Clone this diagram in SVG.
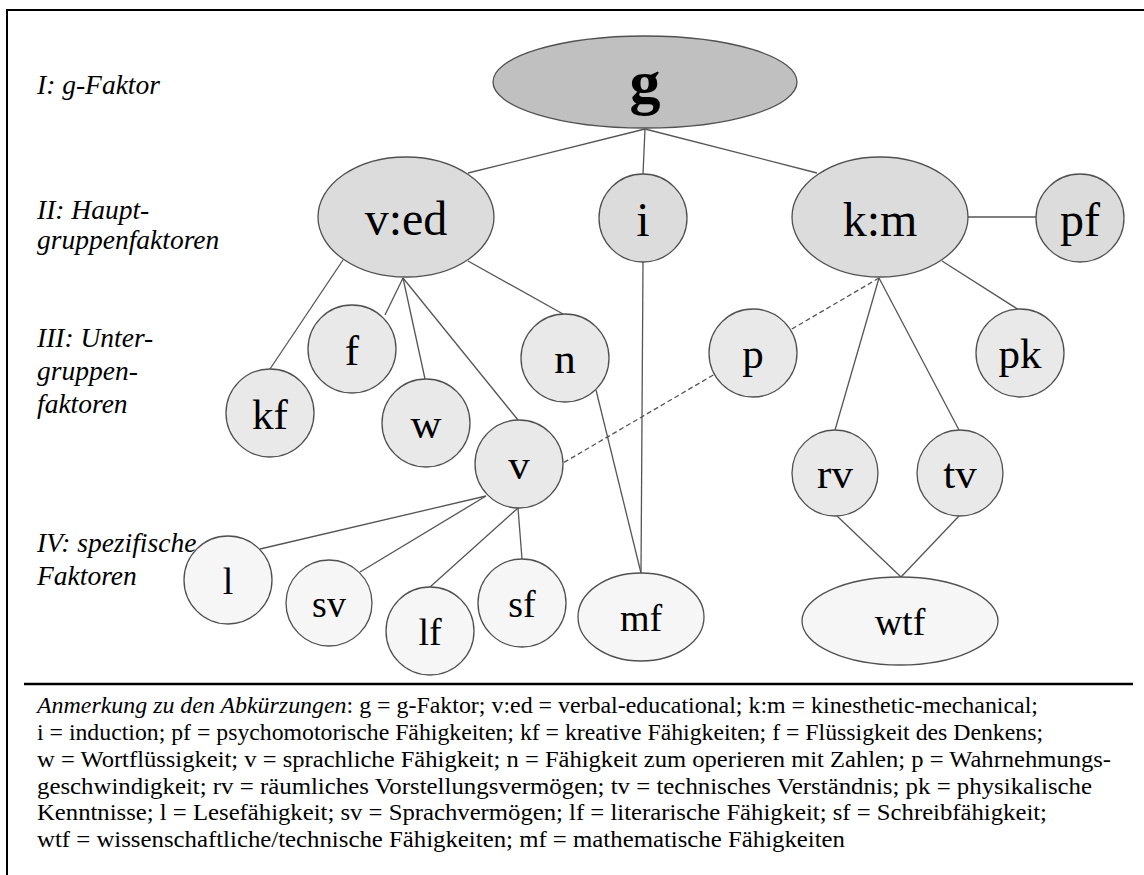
<svg xmlns="http://www.w3.org/2000/svg" width="1144" height="875" viewBox="0 0 1144 875">
  <style>
    .frame { stroke: #000; stroke-width: 2; fill: none; }
    .rule { stroke: #000; stroke-width: 2.5; }
    .edge { stroke: #555; stroke-width: 1.3; fill: none; }
    .dash { stroke-dasharray: 5 3; }
    .n0 { fill: #c0c0c0; stroke: #505050; stroke-width: 1.3; }
    .n1 { fill: #dcdcdc; stroke: #505050; stroke-width: 1.3; }
    .n2 { fill: #e9e9e9; stroke: #505050; stroke-width: 1.3; }
    .n3 { fill: #f6f6f6; stroke: #505050; stroke-width: 1.3; }
    text { font-family: "Liberation Serif", "Times New Roman", serif; fill: #000; }
    .lbl { text-anchor: middle; }
    .t0 { font-size: 62px; font-weight: bold; }
    .t1 { font-size: 48px; }
    .t2 { font-size: 43px; }
    .t3 { font-size: 38px; }
    .level { font-size: 27.5px; font-style: italic; }
    .note { font-size: 24px; }
    .it { font-style: italic; }
  </style>

  <!-- frame -->
  <path class="frame" d="M7 875 V10 H1144"/>

  <!-- level captions -->
  <g id="levels">
    <text class="level" x="37" y="94">I: g-Faktor</text>
    <text class="level" x="37" y="219">II: Haupt-</text>
    <text class="level" x="37" y="249">gruppenfaktoren</text>
    <text class="level" x="37" y="347">III: Unter-</text>
    <text class="level" x="37" y="380">gruppen-</text>
    <text class="level" x="37" y="413">faktoren</text>
    <text class="level" x="37" y="552">IV: spezifische</text>
    <text class="level" x="37" y="585">Faktoren</text>
  </g>

  <!-- connectors -->
  <g id="connectors">
    <line class="edge" x1="645" y1="129" x2="468" y2="173"/>
    <line class="edge" x1="645" y1="129" x2="643" y2="174"/>
    <line class="edge" x1="645" y1="129" x2="817" y2="173"/>
    <line class="edge" x1="968" y1="217" x2="1036" y2="217"/>
    <line class="edge" x1="942" y1="261" x2="1019" y2="310"/>
    <line class="edge" x1="343" y1="260" x2="270" y2="369"/>
    <line class="edge" x1="403" y1="278" x2="385" y2="315"/>
    <line class="edge" x1="403" y1="278" x2="425" y2="379"/>
    <line class="edge" x1="403" y1="278" x2="518" y2="420"/>
    <line class="edge" x1="468" y1="261" x2="563" y2="314"/>
    <line class="edge" x1="643" y1="262" x2="641" y2="573"/>
    <line class="edge" x1="596" y1="390" x2="641" y2="573"/>
    <line class="edge dash" x1="879" y1="278" x2="563" y2="463"/>
    <line class="edge" x1="879" y1="278" x2="835" y2="430"/>
    <line class="edge" x1="879" y1="278" x2="959" y2="430"/>
    <line class="edge" x1="837" y1="516" x2="901" y2="577"/>
    <line class="edge" x1="959" y1="516" x2="901" y2="577"/>
    <line class="edge" x1="486" y1="496" x2="260" y2="549"/>
    <line class="edge" x1="486" y1="496" x2="360" y2="572"/>
    <line class="edge" x1="518" y1="508" x2="430" y2="587"/>
    <line class="edge" x1="518" y1="508" x2="522" y2="559"/>
  </g>

  <!-- nodes -->
  <g id="node-g"><ellipse class="n0" cx="645" cy="82" rx="152" ry="46"/><text class="lbl t0" x="645" y="103">g</text></g>
  <g id="node-ved"><ellipse class="n1" cx="406" cy="217" rx="88" ry="60"/><text class="lbl t1" x="406" y="235">v:ed</text></g>
  <g id="node-i"><circle class="n1" cx="643" cy="218" r="44"/><text class="lbl t1" x="643" y="236">i</text></g>
  <g id="node-km"><ellipse class="n1" cx="880" cy="217" rx="88" ry="60"/><text class="lbl t1" x="880" y="236">k:m</text></g>
  <g id="node-pf"><circle class="n1" cx="1080" cy="218" r="44"/><text class="lbl t1" x="1080" y="236">pf</text></g>

  <g id="node-f"><circle class="n2" cx="352" cy="349" r="44"/><text class="lbl t2" x="352" y="365">f</text></g>
  <g id="node-kf"><circle class="n2" cx="270" cy="413" r="44"/><text class="lbl t2" x="270" y="429">kf</text></g>
  <g id="node-w"><circle class="n2" cx="426" cy="423" r="44"/><text class="lbl t2" x="426" y="438">w</text></g>
  <g id="node-n"><circle class="n2" cx="565" cy="358" r="44"/><text class="lbl t2" x="565" y="373">n</text></g>
  <g id="node-p"><circle class="n2" cx="753" cy="353" r="44"/><text class="lbl t2" x="753" y="368">p</text></g>
  <g id="node-pk"><circle class="n2" cx="1020" cy="353" r="44"/><text class="lbl t2" x="1020" y="368">pk</text></g>
  <g id="node-v"><circle class="n2" cx="519" cy="464" r="44"/><text class="lbl t2" x="519" y="479">v</text></g>
  <g id="node-rv"><circle class="n2" cx="835" cy="473" r="43"/><text class="lbl t2" x="835" y="488">rv</text></g>
  <g id="node-tv"><circle class="n2" cx="960" cy="473" r="43"/><text class="lbl t2" x="960" y="488">tv</text></g>

  <g id="node-l"><circle class="n3" cx="228" cy="580" r="44"/><text class="lbl t3" x="228" y="594">l</text></g>
  <g id="node-sv"><circle class="n3" cx="329" cy="603" r="43"/><text class="lbl t3" x="329" y="617">sv</text></g>
  <g id="node-lf"><circle class="n3" cx="430" cy="631" r="44"/><text class="lbl t3" x="430" y="645">lf</text></g>
  <g id="node-sf"><circle class="n3" cx="522" cy="603" r="44"/><text class="lbl t3" x="522" y="617">sf</text></g>
  <g id="node-mf"><ellipse class="n3" cx="641" cy="617" rx="63" ry="44"/><text class="lbl t3" x="641" y="631">mf</text></g>
  <g id="node-wtf"><ellipse class="n3" cx="900" cy="621" rx="98" ry="44"/><text class="lbl t3" x="900" y="635">wtf</text></g>

  <!-- abbreviation note -->
  <line class="rule" x1="24" y1="684" x2="1133" y2="684"/>
  <g id="note">
    <text class="note" x="37" y="713" textLength="1001" lengthAdjust="spacingAndGlyphs"><tspan class="it">Anmerkung zu den Abkürzungen</tspan>: g = g-Faktor; v:ed = verbal-educational; k:m = kinesthetic-mechanical;</text>
    <text class="note" x="37" y="740" textLength="1006" lengthAdjust="spacingAndGlyphs">i = induction; pf = psychomotorische Fähigkeiten; kf = kreative Fähigkeiten; f = Flüssigkeit des Denkens;</text>
    <text class="note" x="37" y="767" textLength="1074" lengthAdjust="spacingAndGlyphs">w = Wortflüssigkeit; v = sprachliche Fähigkeit; n = Fähigkeit zum operieren mit Zahlen; p = Wahrnehmungs-</text>
    <text class="note" x="37" y="794" textLength="1055" lengthAdjust="spacingAndGlyphs">geschwindigkeit; rv = räumliches Vorstellungsvermögen; tv = technisches Verständnis; pk = physikalische</text>
    <text class="note" x="37" y="820" textLength="1010" lengthAdjust="spacingAndGlyphs">Kenntnisse; l = Lesefähigkeit; sv = Sprachvermögen; lf = literarische Fähigkeit; sf = Schreibfähigkeit;</text>
    <text class="note" x="37" y="847" textLength="808" lengthAdjust="spacingAndGlyphs">wtf = wissenschaftliche/technische Fähigkeiten; mf = mathematische Fähigkeiten</text>
  </g>
</svg>
